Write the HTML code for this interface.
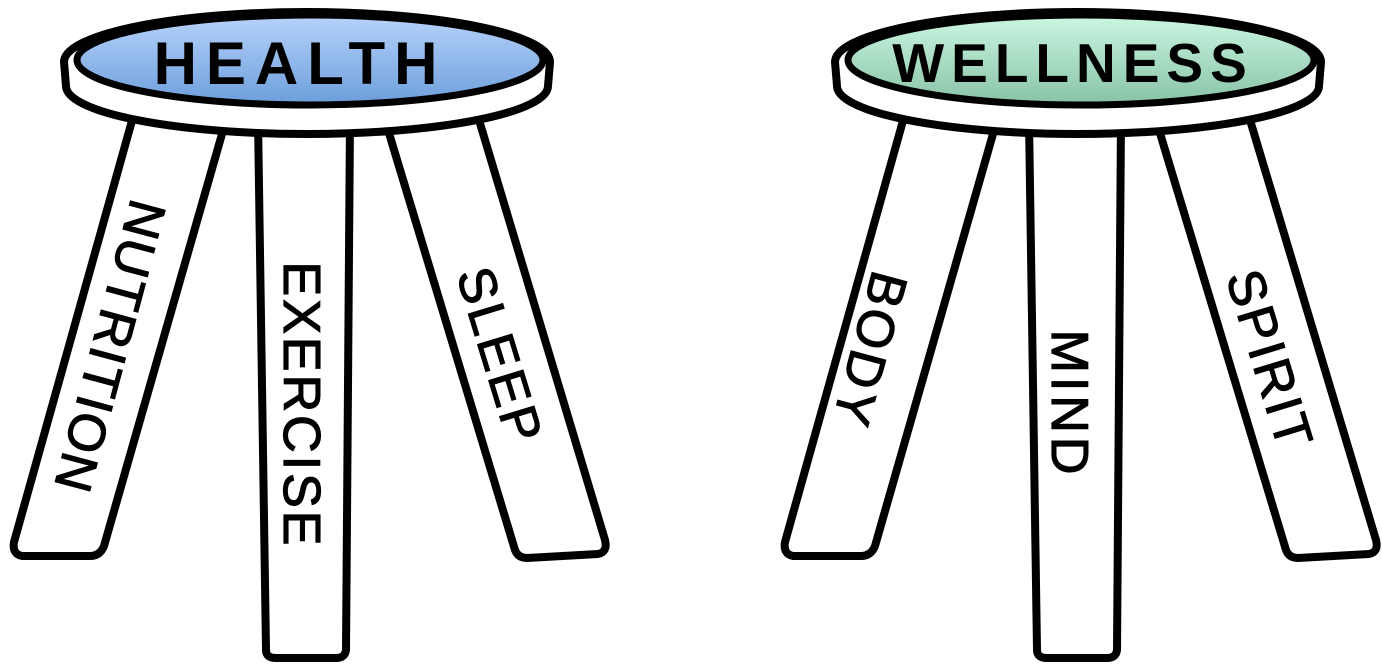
<!DOCTYPE html>
<html><head><meta charset="utf-8"><style>
html,body{margin:0;padding:0;background:#fff;}
svg{display:block;}
text{font-family:"Liberation Sans",Arial,sans-serif;}
</style></head><body>
<svg width="1382" height="667" viewBox="0 0 1382 667" xmlns="http://www.w3.org/2000/svg">
<defs>
<linearGradient id="gb" x1="0" y1="0" x2="0" y2="1">
<stop offset="0" stop-color="#b7d3fb"/><stop offset="1" stop-color="#6c9edb"/></linearGradient>
<linearGradient id="gg" x1="0" y1="0" x2="0" y2="1">
<stop offset="0" stop-color="#cbf7e2"/><stop offset="1" stop-color="#88c2a6"/></linearGradient>
<g id="stoolbase" stroke="#000" stroke-width="8" stroke-linejoin="round" fill="#fff">
<path d="M135,110 L226,120 L104,546 Q100,556 90,556 L22,556 Q12,554 14,542 Z"/>
<path d="M258,120 L350,120 L346,650 Q345,658 336,658 L276,658 Q266,658 266,650 Z"/>
<path d="M385,120 L476,110 L605,540 Q608,552 598,554 L527,558 Q518,558 515,550 Z"/>
<path d="M64,62 A243,50 0 0 1 550,62 L548,86 A241,48 0 0 1 66,86 Z"/>
</g>
</defs>
<use href="#stoolbase"/>
<ellipse cx="310" cy="60" rx="233" ry="45" fill="url(#gb)" stroke="#000" stroke-width="7"/>
<g transform="translate(771,0)">
<use href="#stoolbase"/>
<ellipse cx="310" cy="60" rx="233" ry="45" fill="url(#gg)" stroke="#000" stroke-width="7"/>
</g>
<text x="300" y="84" font-size="60" font-weight="bold" letter-spacing="9" text-anchor="middle">HEALTH</text>
<text x="1073" y="82" font-size="55" font-weight="bold" letter-spacing="7" text-anchor="middle">WELLNESS</text>
<g font-size="52" text-anchor="middle" stroke="#000" stroke-width="1.2">
<text transform="translate(110,347) rotate(105)" y="18" letter-spacing="2">NUTRITION</text>
<text transform="translate(302,405) rotate(90)" y="18" letter-spacing="3">EXERCISE</text>
<text transform="translate(500,356) rotate(73)" y="18" letter-spacing="3">SLEEP</text>
<text transform="translate(870,350) rotate(105)" y="18" letter-spacing="3">BODY</text>
<text transform="translate(1070,404) rotate(90)" y="18" letter-spacing="4">MIND</text>
<text transform="translate(1270,360) rotate(73)" y="18" letter-spacing="3">SPIRIT</text>
</g>
</svg>
</body></html>
